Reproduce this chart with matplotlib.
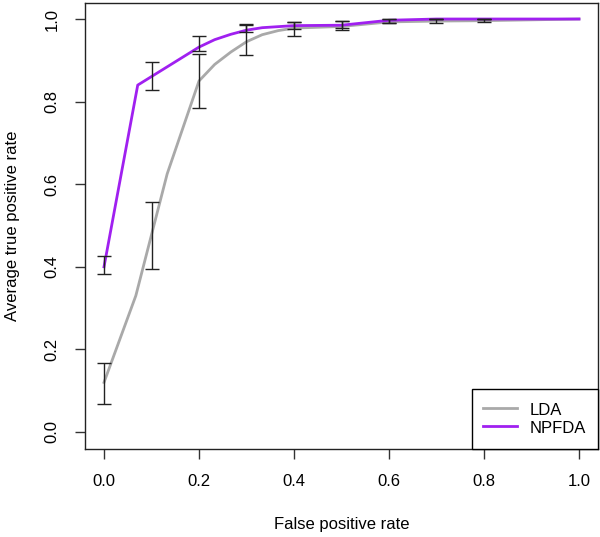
import matplotlib
matplotlib.use("Agg")
import matplotlib.pyplot as plt
import numpy as np

plt.rcParams['font.family'] = ['Liberation Sans', 'DejaVu Sans']

# ROC curves (knots)
lda_fpr = [0.0, 0.067, 0.133, 0.2, 0.233, 0.267, 0.3, 0.333, 0.367, 0.4, 0.5, 0.6, 0.7, 0.8, 0.9, 1.0]
lda_tpr = [0.12, 0.33, 0.625, 0.85, 0.89, 0.92, 0.945, 0.962, 0.972, 0.978, 0.982, 0.993, 0.995, 0.996, 0.998, 1.0]

npfda_fpr = [0.0, 0.071, 0.2, 0.233, 0.267, 0.3, 0.333, 0.4, 0.5, 0.6, 0.7, 0.8, 0.9, 1.0]
npfda_tpr = [0.40, 0.84, 0.932, 0.95, 0.963, 0.973, 0.979, 0.984, 0.985, 0.997, 1.0, 1.0, 1.0, 1.0]

# error bars
err_fpr = [0.0, 0.1, 0.2, 0.3, 0.4, 0.5, 0.6, 0.7, 0.8]
lda_low = [0.067, 0.394, 0.784, 0.912, 0.960, 0.973, 0.990, 0.991, 0.993]
lda_high = [0.166, 0.557, 0.916, 0.985, 0.993, 0.995, 1.0, 1.0, 1.0]
npfda_low = [0.382, 0.827, 0.922, 0.968, 0.975, 0.978, 0.990, 1.0, 1.0]
npfda_high = [0.425, 0.895, 0.958, 0.987, 0.993, 0.995, 1.0, 1.0, 1.0]

xticks = [0.0, 0.2, 0.4, 0.6, 0.8, 1.0]
yticks = [0.0, 0.2, 0.4, 0.6, 0.8, 1.0]

fig = plt.figure(figsize=(6.0, 5.37), dpi=100)
ax = fig.add_axes([85/600, 1 - 448.5/537, (598-85)/600, (448.5-2.5)/537])

ax.plot(lda_fpr, lda_tpr, color='#A9A9A9', lw=2, label='LDA', zorder=2)
ax.plot(npfda_fpr, npfda_tpr, color='#A020F0', lw=2, label='NPFDA', zorder=2)

for lo, hi in ((lda_low, lda_high), (npfda_low, npfda_high)):
    lo = np.array(lo); hi = np.array(hi)
    mid = (lo + hi) / 2
    ax.errorbar(err_fpr, mid, yerr=[mid - lo, hi - mid], fmt='none',
                ecolor='#222222', elinewidth=1, capsize=4.7, capthick=1, zorder=3)

ax.set_xlim(-0.04, 1.04)
ax.set_ylim(-0.04, 1.04)
ax.set_xticks(xticks)
ax.set_yticks(yticks)
ax.set_xticklabels([f"{t:.1f}" for t in xticks], fontsize=12)
ax.set_yticklabels([f"{t:.1f}" for t in yticks], fontsize=12, rotation=90, va='center')
ax.tick_params(axis='both', length=7.2, width=1, color='#333333', pad=11)
for s in ax.spines.values():
    s.set_color('#222222')
    s.set_linewidth(1)

ax.set_xlabel('False positive rate', fontsize=12, labelpad=20)
ax.set_ylabel('Average true positive rate', fontsize=12, labelpad=18)

leg = ax.legend(loc='lower right', bbox_to_anchor=(1, 0), borderaxespad=0,
                fancybox=False, edgecolor='black', framealpha=1, fontsize=12,
                borderpad=0.7, handlelength=2.0, handletextpad=0.8,
                handleheight=1.3, labelspacing=0.0)
leg.get_frame().set_linewidth(1)

fig.savefig('out.png', dpi=100)
